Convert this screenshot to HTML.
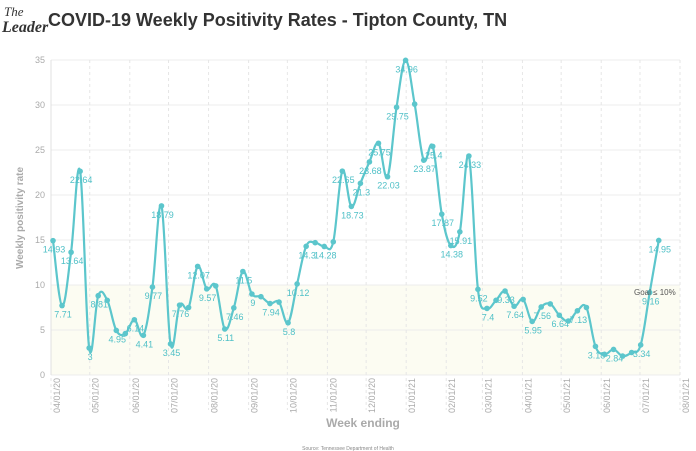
<!DOCTYPE html>
<html><head><meta charset="utf-8">
<style>
body{margin:0;background:#fff;font-family:"Liberation Sans",sans-serif;}
#wrap{position:relative;width:696px;height:451px;overflow:hidden;}
</style></head>
<body>
<div id="wrap">
<svg id="chart" width="696" height="451" xmlns="http://www.w3.org/2000/svg">
  <g>
    <text x="4" y="16" font-family="Liberation Serif" font-size="13" font-style="italic" fill="#333">The</text>
    <text x="2" y="32" font-family="Liberation Serif" font-size="16" font-style="italic" font-weight="bold" fill="#333">Leader</text>
  </g>
  <text x="48" y="26" font-size="18" font-weight="bold" fill="#333">COVID-19 Weekly Positivity Rates - Tipton County, TN</text>
  <g id="plot"></g>
  <text x="23" y="218" transform="rotate(-90 23 218)" text-anchor="middle" font-size="10" font-weight="bold" fill="#aaa">Weekly positivity rate</text>
  <text x="363" y="427" text-anchor="middle" font-size="12" font-weight="bold" fill="#aaa">Week ending</text>
  <text x="348" y="450" text-anchor="middle" font-size="5" fill="#888">Source: Tennessee Department of Health</text>
</svg>
</div>
<script>
const values = [14.93,7.71,13.64,22.64,3,8.81,8.3,4.95,4.6,6.14,4.41,9.77,18.79,3.45,7.76,7.5,12.07,9.57,9.9,5.11,7.46,11.5,9,8.7,7.94,8.1,5.8,10.12,14.3,14.7,14.28,14.8,22.65,18.73,21.3,23.68,25.75,22.03,29.75,34.96,30.1,23.87,25.4,17.87,14.38,15.91,24.33,9.52,7.4,8.3,9.33,7.64,8.4,5.95,7.56,7.9,6.64,6.0,7.13,7.5,3.18,2.3,2.84,2.1,2.5,3.34,9.16,14.95];
const labels = ["14.93","7.71","13.64","22.64","3","8.81",null,"4.95",null,"6.14","4.41","9.77","18.79","3.45","7.76",null,"12.07","9.57",null,"5.11","7.46","11.5","9",null,"7.94",null,"5.8","10.12","14.3",null,"14.28",null,"22.65","18.73","21.3","23.68","25.75","22.03","29.75","34.96",null,"23.87","25.4","17.87","14.38","15.91","24.33","9.52","7.4",null,"9.33","7.64",null,"5.95","7.56",null,"6.64",null,"7.13",null,"3.18",null,"2.84",null,null,"3.34","9.16","14.95"];
const yTicks = [0,5,10,15,20,25,30,35];
const monthTicks = ["2020-04-01","2020-05-01","2020-06-01","2020-07-01","2020-08-01","2020-09-01","2020-10-01","2020-11-01","2020-12-01","2021-01-01","2021-02-01","2021-03-01","2021-04-01","2021-05-01","2021-06-01","2021-07-01","2021-08-01"];
const goal = 10;
const startDate = "2020-04-01";

const NS="http://www.w3.org/2000/svg";
const plot=document.getElementById('plot');
const X0=51,X1=680,Y0=375,Y1=60;
const d0=Date.parse(startDate), dEnd=Date.parse("2021-08-01");
function xDate(s){return X0+(Date.parse(s)-d0)/(dEnd-d0)*(X1-X0);}
function xIdx(i){return xDate(startDate)+2+ i*7*86400000/(dEnd-d0)*(X1-X0);}
function y(v){return Y0-(v/35)*(Y0-Y1);}
function mk(tag,attrs){const e=document.createElementNS(NS,tag);for(const k in attrs)e.setAttribute(k,attrs[k]);plot.appendChild(e);return e;}

const band=mk('rect',{x:X0,y:y(goal),width:X1-X0,height:Y0-y(goal),fill:'#fcfcf2'});



yTicks.forEach(t=>{
  const l=mk('line',{x1:X0,x2:X1,y1:y(t),y2:y(t),stroke:'#ececec','stroke-width':1});
  
  
  const tx=mk('text',{x:X0-6,y:y(t)+3,'text-anchor':'end','font-size':9,fill:'#aaa'});
  tx.textContent=t;
  
  
});
monthTicks.forEach(m=>{
  const xx=xDate(m);
  const l=mk('line',{x1:xx,x2:xx,y1:Y1,y2:Y0+35,stroke:'#e6e6e6','stroke-dasharray':'3,3'});
  
  
  const p=m.split('-');
  const lx=xx+9, ly=Y0+3;
  const tx=mk('text',{x:lx,y:ly,'text-anchor':'end','font-size':9,fill:'#aaa',transform:`rotate(-90 ${lx} ${ly})`});
  tx.textContent=p[1]+'/'+p[2]+'/'+p[0].slice(2);
  
  
});
const yl=mk('line',{x1:X0,x2:X0,y1:Y1,y2:Y0,stroke:'#e0e0e0'});



const pts=values.map((v,i)=>[xIdx(i),y(v)]);
let dstr='M'+pts[0][0]+','+pts[0][1];
for(let i=0;i<pts.length-1;i++){
  const p0=pts[Math.max(0,i-1)],p1=pts[i],p2=pts[i+1],p3=pts[Math.min(pts.length-1,i+2)];
  const t=0.18;
  dstr+=` C${p1[0]+(p2[0]-p0[0])*t},${p1[1]+(p2[1]-p0[1])*t} ${p2[0]-(p3[0]-p1[0])*t},${p2[1]-(p3[1]-p1[1])*t} ${p2[0]},${p2[1]}`;
}
const line=mk('path',{d:dstr,fill:'none',stroke:'#5cc6cc','stroke-width':2.2});



pts.forEach((p,i)=>{
  const c=mk('circle',{cx:p[0],cy:p[1],r:2.8,fill:'#5cc6cc'});
  
  
  if(labels[i]){
    const t=mk('text',{x:p[0]+1,y:p[1]+12,'text-anchor':'middle','font-size':9,fill:'#4fc0c7'});
    t.textContent=labels[i];
    
    
  }
});
const g=mk('text',{x:634,y:y(goal)+10,'font-size':8,fill:'#555'});
g.textContent='Goal ≤ 10%';


</script>
</body></html>
